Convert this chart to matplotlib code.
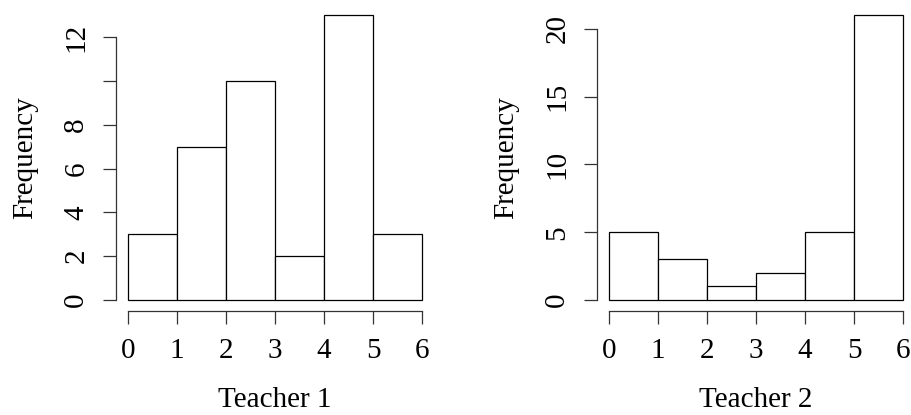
import numpy as np
import matplotlib
matplotlib.use('Agg')
import matplotlib.pyplot as plt

plt.rcParams['font.family'] = ['Liberation Serif', 'DejaVu Serif']
plt.rcParams['font.size'] = 21

# histogram bins and counts
bin_edges = [0, 1, 2, 3, 4, 5, 6]
teacher1_counts = [3, 7, 10, 2, 13, 3]
teacher2_counts = [5, 3, 1, 2, 5, 21]

teacher1_yticks = [0, 2, 4, 6, 8, 10, 12]
teacher1_ylabels = ['0', '2', '4', '6', '8', '', '12']
teacher2_yticks = [0, 5, 10, 15, 20]
teacher2_ylabels = ['0', '5', '10', '15', '20']

xlabels = ['Teacher 1', 'Teacher 2']

fig = plt.figure(figsize=(9.11, 4.15), dpi=100)

W, H = 911.0, 415.0
panels = [
    (116.2, teacher1_counts, teacher1_yticks, teacher1_ylabels),
    (597.2, teacher2_counts, teacher2_yticks, teacher2_ylabels),
]

for i, (left_px, counts, yt, yl) in enumerate(panels):
    ax = fig.add_axes([left_px / W, (H - 311.4) / H, 317.6 / W, 307.5 / H])
    ax.patch.set_alpha(0)
    lefts = bin_edges[:-1]
    ax.bar(lefts, counts, width=np.diff(bin_edges), align='edge',
           facecolor='white', edgecolor='black', linewidth=0.9)

    xmin, xmax = bin_edges[0], bin_edges[-1]
    xr = xmax - xmin
    ymax = max(counts)
    ax.set_xlim(xmin - 0.04 * xr, xmax + 0.04 * xr)
    ax.set_ylim(-0.04 * ymax, ymax * 1.04)

    for s in ['top', 'right']:
        ax.spines[s].set_visible(False)
    ax.spines['left'].set_bounds(yt[0], yt[-1])
    ax.spines['bottom'].set_bounds(xmin, xmax)
    for s in ['left', 'bottom']:
        ax.spines[s].set_linewidth(0.9)
        ax.spines[s].set_color('#333333')

    ax.set_xticks(bin_edges)
    ax.set_yticks(yt)
    ax.set_yticklabels(yl, rotation=90, va='center')
    ax.tick_params(length=9.4, width=0.9, color='#333333', pad=10)

    ax.set_xlabel(xlabels[i], labelpad=16)
    ax.set_ylabel('Frequency', labelpad=18)

fig.savefig('out.png', dpi=100)
